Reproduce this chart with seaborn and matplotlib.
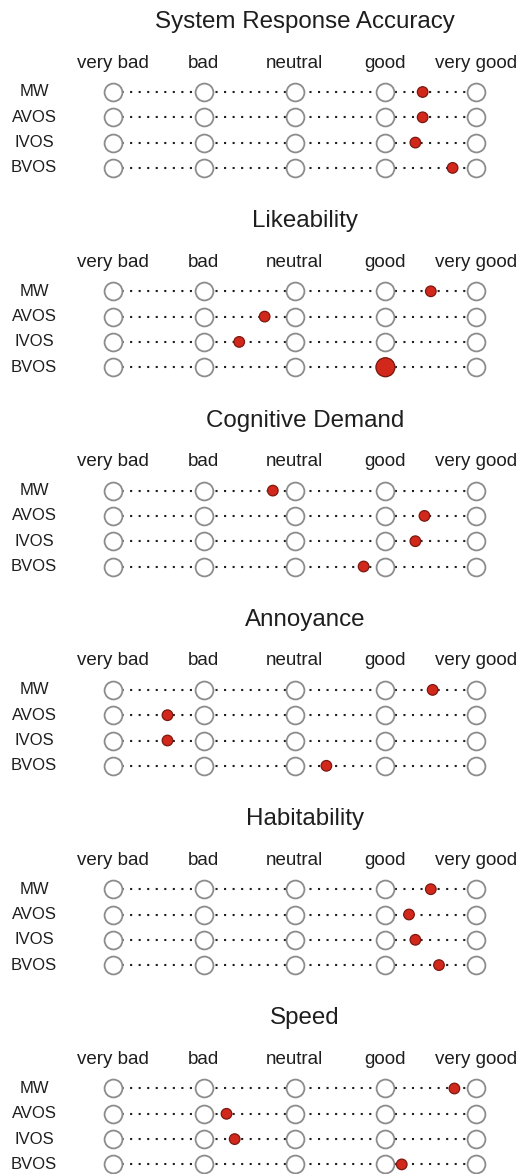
import matplotlib
matplotlib.use("Agg")
import matplotlib.pyplot as plt
import seaborn as sns
import pandas as pd
import numpy as np

sns.set_theme(style="white")
plt.rcParams['font.family'] = ['Liberation Sans', 'DejaVu Sans']

# ---- data ----
panels = ["System Response Accuracy", "Likeability", "Cognitive Demand",
          "Annoyance", "Habitability", "Speed"]
systems = ["MW", "AVOS", "IVOS", "BVOS"]
scale_labels = ["very bad", "bad", "neutral", "good", "very good"]

sra = [4.41, 4.41, 4.33, 4.74]
likeability = [4.50, 2.67, 2.39, 4.00]
cognitive = [2.76, 4.43, 4.33, 3.76]
annoyance = [4.52, 1.60, 1.60, 3.35]
habitability = [4.50, 4.26, 4.33, 4.59]
speed = [4.76, 2.25, 2.34, 4.18]

values = [sra, likeability, cognitive, annoyance, habitability, speed]

# ---- layout ----
W, H = 526, 1174
fig = plt.figure(figsize=(W / 100, H / 100), dpi=100)
fig.patch.set_facecolor("white")

x0_px = 113.0          # pixel position of value 1
unit_px = 90.8         # pixels per scale unit
panel_h = 199.3
red_fill = "#d2281c"
red_edge = "#7c1810"
ring_edge = "#8c8c8c"
text_col = "#1e1e1e"

scale_pos = np.arange(1, 6)

for p, (title, vals) in enumerate(zip(panels, values)):
    top = p * panel_h
    ax = fig.add_axes([0, 1 - (top + panel_h) / H, 1, panel_h / H])
    ax.set_xlim(1 - x0_px / unit_px, 1 + (W - x0_px) / unit_px)
    ax.set_ylim(panel_h, 0)
    ax.axis("off")

    title_y = 22
    header_y = 63
    row_y = [92 + 25.3 * i for i in range(len(systems))]

    ax.text(1 + (305 - x0_px) / unit_px, title_y, title, ha="center", va="center",
            fontsize=17.4, color=text_col)
    for lab, xp in zip(scale_labels, scale_pos):
        ax.text(xp, header_y, lab, ha="center", va="center", fontsize=13.5,
                color=text_col)

    rings = pd.DataFrame({
        "x": np.tile(scale_pos, len(systems)),
        "y": np.repeat(row_y, len(scale_pos)),
        "row": np.repeat(systems, len(scale_pos)),
    })
    for sys_name, yv in zip(systems, row_y):
        ax.text(1 - (x0_px - 34) / unit_px, yv, sys_name, ha="center", va="center",
                fontsize=12, color=text_col)
        ax.plot([1, 5], [yv, yv], linestyle=(0, (1, 3.1)), color="#1e1e1e",
                lw=1.5, zorder=1)

    sns.scatterplot(data=rings, x="x", y="y", ax=ax, s=165, color="white",
                    edgecolor=ring_edge, linewidth=1.3, zorder=2, legend=False)

    dots = pd.DataFrame({"x": vals, "y": row_y})
    exact = np.isclose(np.array(vals) % 1, 0)
    dots["size"] = np.where(exact, 185, 58)
    sns.scatterplot(data=dots, x="x", y="y", ax=ax, s=dots["size"].values,
                    color=red_fill, edgecolor=red_edge, linewidth=0.9,
                    zorder=3, legend=False)

fig.savefig("out.png", dpi=100)
